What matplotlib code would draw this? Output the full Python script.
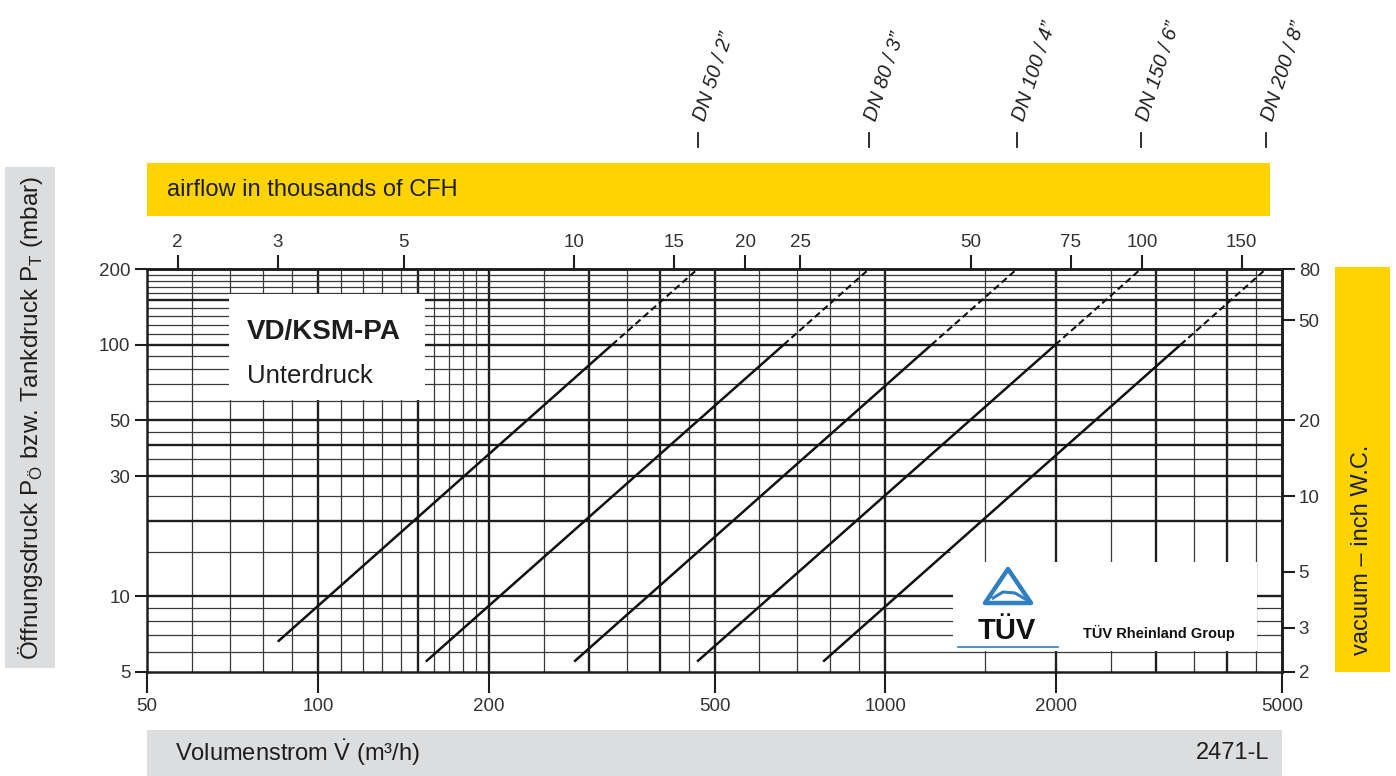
import matplotlib
matplotlib.use("Agg")
from matplotlib import pyplot as plt
from matplotlib.patches import Rectangle, Polygon
from matplotlib.ticker import NullLocator, FixedLocator, FixedFormatter

plt.rcParams['font.family'] = ['Liberation Sans', 'DejaVu Sans']
plt.rcParams['mathtext.fontset'] = 'custom'
plt.rcParams['mathtext.rm'] = 'Liberation Sans'

# flow curves: start point, 100 mbar point, 200 mbar point
dn_labels = ['DN 50 / 2”', 'DN 80 / 3”', 'DN 100 / 4”', 'DN 150 / 6”', 'DN 200 / 8”']
q_start = [85, 155, 283, 466, 777]
p_start = [6.6, 5.5, 5.5, 5.5, 5.5]
q_100 = [330, 662, 1206, 1994, 3313]
q_200 = [467, 936, 1706, 2820, 4685]

# axes ticks
x_ticks = [50, 100, 200, 500, 1000, 2000, 5000]
y_ticks = [5, 10, 30, 50, 100, 200]
cfh_ticks = [2, 3, 5, 10, 15, 20, 25, 50, 75, 100, 150]
inwc_ticks = [2, 3, 5, 10, 20, 50, 80]

# chart paper grid
v_thin = [60, 70, 80, 90, 110, 120, 130, 140, 160, 170, 180, 190, 250, 350, 450,
          600, 700, 800, 900, 1500, 2500, 3500, 4500]
v_thick = [100, 150, 200, 300, 400, 500, 1000, 2000, 3000, 4000]
h_thin = [6, 7, 8, 9, 25, 35, 45, 60, 70, 80, 90, 110, 120, 130, 140, 160, 170, 180, 190]
h_thick = [10, 20, 30, 40, 50, 100, 150]

W, H = 1396, 776
YELLOW = '#ffd300'
GREY = '#dcdddf'
INK = '#1e1e1e'
TXT = '#333333'
THIN = '#383838'

def fx(px):
    return px / W

def fy(py):
    return (H - py) / H

fig = plt.figure(figsize=(W / 100, H / 100), dpi=100)
fig.patch.set_facecolor('white')

# coloured bands
fig.patches.append(Rectangle((fx(147), fy(216)), fx(1270) - fx(147), fy(163) - fy(216),
                             transform=fig.transFigure, facecolor=YELLOW, edgecolor='none', zorder=0))
fig.patches.append(Rectangle((fx(1335), fy(672)), fx(1390) - fx(1335), fy(267) - fy(672),
                             transform=fig.transFigure, facecolor=YELLOW, edgecolor='none', zorder=0))
fig.patches.append(Rectangle((fx(5), fy(668)), fx(55) - fx(5), fy(167) - fy(668),
                             transform=fig.transFigure, facecolor=GREY, edgecolor='none', zorder=0))
fig.patches.append(Rectangle((fx(147), 0), fx(1282) - fx(147), fy(730),
                             transform=fig.transFigure, facecolor=GREY, edgecolor='none', zorder=0))

fig.text(fx(167), fy(190), 'airflow in thousands of CFH', fontsize=17, color=INK,
         ha='left', va='center')
fig.text(fx(1362), fy(655), 'vacuum – inch W.C.', fontsize=17, color=INK,
         ha='center', va='bottom', rotation=90)
fig.text(fx(31), fy(660), 'Öffnungsdruck P$_\\mathregular{Ö}$ bzw. Tankdruck P$_\\mathregular{T}$ (mbar)',
         fontsize=17.5, color=INK, ha='center', va='bottom', rotation=90)
fig.text(fx(175), fy(753), 'Volumenstrom $\\dot{\\mathregular{V}}$ (m³/h)', fontsize=17, color=INK,
         ha='left', va='center')
fig.text(fx(1269), fy(753), '2471-L', fontsize=17, color=INK, ha='right', va='center')

# main chart
ax = fig.add_axes([fx(147), fy(672), fx(1282) - fx(147), fy(269) - fy(672)])
ax.set_xscale('log')
ax.set_yscale('log')
ax.set_xlim(50, 5000)
ax.set_ylim(5, 200)

for v in v_thin:
    ax.axvline(v, color=THIN, lw=0.9, zorder=1)
for v in v_thick:
    ax.axvline(v, color=INK, lw=1.7, zorder=1)
for h in h_thin:
    ax.axhline(h, color=THIN, lw=0.9, zorder=1)
ax.hlines(15, 50, 1300, color=THIN, lw=0.9, zorder=1)
for h in h_thick:
    ax.axhline(h, color=INK, lw=1.7, zorder=1)

for i in range(len(dn_labels)):
    ax.plot([q_start[i], q_100[i]], [p_start[i], 100], color='#111111', lw=1.8,
            solid_capstyle='butt', zorder=3)
    ax.plot([q_100[i], q_200[i]], [100, 200], color='#111111', lw=1.5,
            dashes=(3.2, 1.8), zorder=3)
    # nominal size markers above the chart
    ax.plot([q_200[i], q_200[i]], [1.303, 1.338], transform=ax.get_xaxis_transform(),
            clip_on=False, color=INK, lw=1.3)
    ax.annotate(dn_labels[i], xy=(q_200[i], 1.365), xycoords=ax.get_xaxis_transform(),
                xytext=(7, 0), textcoords='offset pixels', annotation_clip=False,
                rotation=72, rotation_mode='anchor', ha='left', va='baseline',
                fontsize=14.5, style='italic', color=INK)

for s in ax.spines.values():
    s.set_linewidth(1.8)
    s.set_color(INK)

ax.xaxis.set_major_locator(FixedLocator(x_ticks))
ax.xaxis.set_major_formatter(FixedFormatter([str(t) for t in x_ticks]))
ax.xaxis.set_minor_locator(NullLocator())
ax.yaxis.set_major_locator(FixedLocator(y_ticks))
ax.yaxis.set_major_formatter(FixedFormatter([str(t) for t in y_ticks]))
ax.yaxis.set_minor_locator(NullLocator())
ax.tick_params(axis='x', direction='out', length=15, width=1.5, color=INK,
               labelsize=13.5, labelcolor=TXT, pad=4)
ax.tick_params(axis='y', direction='out', length=9, width=1.5, color=INK,
               labelsize=13.5, labelcolor=TXT, pad=3)

# top axis: thousands of CFH
top = ax.secondary_xaxis('top', functions=(lambda q: q * 0.0353147, lambda k: k / 0.0353147))
top.xaxis.set_major_locator(FixedLocator(cfh_ticks))
top.xaxis.set_major_formatter(FixedFormatter([str(t) for t in cfh_ticks]))
top.xaxis.set_minor_locator(NullLocator())
top.tick_params(direction='out', length=10, width=1.5, color=INK,
                labelsize=13.5, labelcolor=TXT, pad=3)
top.spines['top'].set_linewidth(1.8)

# right axis: inch water column (chart uses 2.5 mbar per inch)
right = ax.secondary_yaxis('right', functions=(lambda p: p / 2.5, lambda w: w * 2.5))
right.yaxis.set_major_locator(FixedLocator(inwc_ticks))
right.yaxis.set_major_formatter(FixedFormatter([str(t) for t in inwc_ticks]))
right.yaxis.set_minor_locator(NullLocator())
right.tick_params(direction='out', length=9, width=1.5, color=INK,
                  labelsize=13.5, labelcolor=TXT, pad=3)
right.spines['right'].set_linewidth(1.8)

# title box
tb = fig.add_axes([fx(229), fy(400), fx(425) - fx(229), fy(294) - fy(400)])
tb.set_facecolor('white')
tb.set_xticks([])
tb.set_yticks([])
for s in tb.spines.values():
    s.set_visible(False)
tb.text(0.092, 0.575, 'VD/KSM-PA', fontsize=20, fontweight='bold', color=INK,
        transform=tb.transAxes, ha='left', va='baseline')
tb.text(0.092, 0.16, 'Unterdruck', fontsize=18.5, color=INK,
        transform=tb.transAxes, ha='left', va='baseline')

# TUV logo box
lb = fig.add_axes([fx(953), fy(651), fx(1257) - fx(953), fy(562) - fy(651)])
lb.set_facecolor('white')
lb.set_xticks([])
lb.set_yticks([])
for s in lb.spines.values():
    s.set_visible(False)
lb.set_xlim(0, 304)
lb.set_ylim(89, 0)
blue = '#2f7fc1'
lb.add_patch(Polygon([[55, 7], [32, 41], [78, 41]], closed=True, fill=False,
                     edgecolor=blue, lw=3.2, joinstyle='round'))
lb.plot([40, 50, 62, 74], [36, 30, 31, 38], color=blue, lw=2.2)
lb.text(54, 77, 'TÜV', fontsize=21, fontweight='bold', color='#111111',
        ha='center', va='baseline')
lb.plot([5, 105], [85, 85], color=blue, lw=1.2)
lb.text(130, 76, 'TÜV Rheinland Group', fontsize=10.5, fontweight='bold', color='#111111',
        ha='left', va='baseline')

fig.savefig('out.png', dpi=100)
